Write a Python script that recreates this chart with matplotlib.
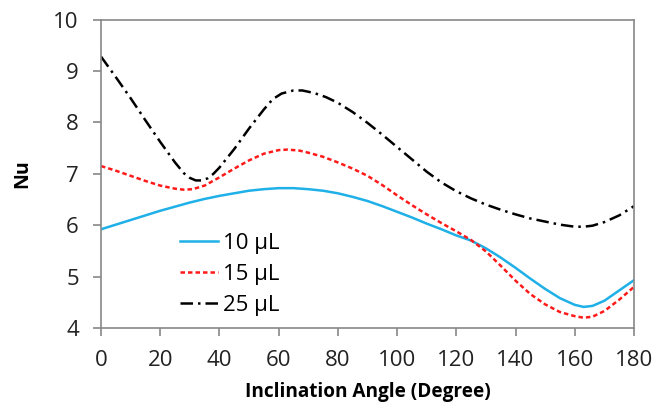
import matplotlib
matplotlib.use("Agg")
import matplotlib.pyplot as plt

plt.rcParams['font.family'] = ['Open Sans', 'DejaVu Sans']

x10 = [0, 5, 10, 15, 20, 25, 30, 35, 40, 45, 50, 55, 60, 65, 70, 75, 80, 85, 90, 95, 100, 105, 110, 115, 120, 125, 130, 135, 140, 145, 150, 155, 160, 163, 166, 170, 175, 180]
y10 = [5.92, 6.01, 6.10, 6.19, 6.28, 6.36, 6.44, 6.51, 6.57, 6.62, 6.67, 6.70, 6.72, 6.72, 6.70, 6.67, 6.62, 6.55, 6.47, 6.37, 6.26, 6.15, 6.03, 5.92, 5.80, 5.70, 5.55, 5.37, 5.17, 4.96, 4.76, 4.58, 4.45, 4.41, 4.43, 4.53, 4.73, 4.93]

x15 = [0, 5, 10, 15, 20, 25, 28, 31, 35, 40, 45, 50, 55, 60, 63, 67, 70, 75, 80, 85, 90, 95, 100, 105, 110, 115, 120, 125, 130, 135, 140, 145, 150, 155, 160, 163, 166, 170, 175, 180]
y15 = [7.15, 7.06, 6.96, 6.86, 6.77, 6.71, 6.69, 6.70, 6.77, 6.93, 7.10, 7.26, 7.39, 7.46, 7.47, 7.45, 7.41, 7.33, 7.22, 7.10, 6.96, 6.78, 6.58, 6.39, 6.21, 6.04, 5.88, 5.71, 5.49, 5.21, 4.92, 4.66, 4.46, 4.31, 4.23, 4.20, 4.22, 4.33, 4.55, 4.80]

x25 = [0, 5, 10, 15, 20, 25, 28, 30, 32, 34, 36, 38, 40, 45, 50, 55, 58, 61, 65, 68, 72, 76, 80, 85, 90, 95, 100, 105, 110, 115, 120, 125, 130, 135, 140, 145, 150, 155, 160, 163, 166, 170, 175, 180]
y25 = [9.28, 8.88, 8.47, 8.04, 7.62, 7.22, 7.01, 6.92, 6.87, 6.87, 6.91, 7.00, 7.12, 7.48, 7.88, 8.25, 8.45, 8.56, 8.62, 8.62, 8.57, 8.49, 8.38, 8.20, 7.99, 7.76, 7.52, 7.28, 7.04, 6.83, 6.66, 6.52, 6.40, 6.30, 6.21, 6.13, 6.07, 6.01, 5.97, 5.97, 5.99, 6.06, 6.19, 6.37]

labels = ['10 µL', '15 µL', '25 µL']
xticks = list(range(0, 181, 20))
yticks = list(range(4, 11))

fig = plt.figure(figsize=(6.54, 4.03), dpi=100)
ax = fig.add_axes([0.1544, 0.1861, 0.815, 0.7655])

ax.plot(x10, y10, color='#1fb0e8', lw=1.8, label=labels[0])
ax.plot(x15, y15, color='#ff1a1a', lw=1.8, ls=(0, (1.8, 1.2)), label=labels[1])
ax.plot(x25, y25, color='black', lw=1.8, ls=(0, (5, 2, 1, 2)), label=labels[2])

ax.set_xlim(0, 180)
ax.set_ylim(4, 10)
ax.set_xticks(xticks)
ax.set_yticks(yticks)
for s in ax.spines.values():
    s.set_color('#888888')
    s.set_linewidth(1.2)
ax.tick_params(axis='both', direction='out', length=6, width=1.2, color='#888888',
               labelsize=16, labelcolor='#222222')
ax.tick_params(axis='x', pad=10)
ax.tick_params(axis='y', pad=10)

ax.set_xlabel('Inclination Angle (Degree)', fontsize=13.7, fontweight='bold', labelpad=8)
ax.set_ylabel('Nu', fontsize=14, fontweight='bold', labelpad=15)

ax.legend(loc='lower left', bbox_to_anchor=(0.11, -0.025), frameon=False, fontsize=16,
          handlelength=1.75, handletextpad=0.2, labelspacing=0.45)

fig.savefig('out.png', dpi=100)
